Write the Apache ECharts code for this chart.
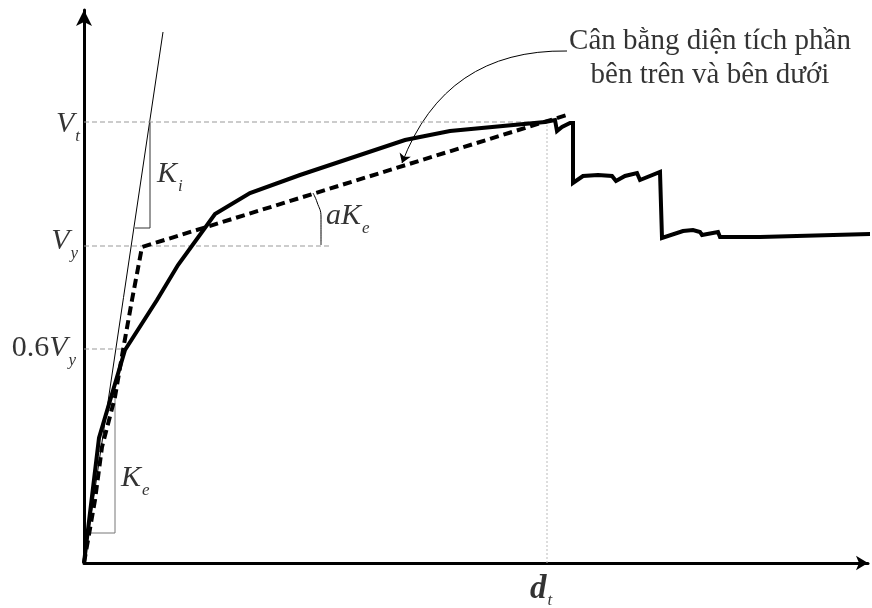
<!DOCTYPE html>
<html>
<head>
<meta charset="utf-8">
<script src="https://cdn.jsdelivr.net/npm/echarts@6/dist/echarts.min.js"></script>
<style>
html, body { margin: 0; padding: 0; background: #fff; }
#main { width: 872px; height: 608px; }
</style>
</head>
<body>
<div id="main"></div>
<script>
// đường cong đẩy dần (nét liền)
var capacityCurve = [[0,0],[15,125],[41,213],[73,263],[94,298],[131,349],[166,370],[216,388],[321,423],[366,432],
    [461,441],[471,443],[473,432],[478,436],[486,440],[489,440],[489,380],[499,387],[514,388],[528,387],[532,382],
    [541,387],[553,390],[556,383],[576,391],[578,325],[599,332],[609,333],[616,331],[618,328],[634,331],[636,326],
    [676,326],[788,329]];
// đường song tuyến (nét đứt)
var bilinear = [[0,0],[11,63],[18,116],[31,166],[39,213],[48,263],[58,316],[486,449]];
// độ cứng ban đầu Ki
var kiLine = [[0,0],[79,531]];
var kiTriangle = [[51,335],[66,335],[66,441]];
var keTriangle = [[6,30],[31,30],[31,166]];
var alphaArc = [[229,370],[233,361],[237,346],[237,318]];
// các mức lực
var levelNames = ['Vt', 'Vy', '0.6Vy'];
var levelY = [441, 317, 214];
var levelEndX = [464, 246, 41];
var dt = 463;
// chú thích
var noteText = 'Cân bằng diện tích phần\nbên trên và bên dưới';
var noteArrow = [[483,512],[318,400]];
var labels = [
    ['{v|V}{s|t}', -4, 437, 'right'],
    ['{v|V}{s|y}', -6, 320, 'right'],
    ['{n|0.6}{v|V}{s|y}', -8, 213, 'right'],
    ['{v|K}{s|i}', 73, 387, 'left'],
    ['{v|K}{s|e}', 37, 83, 'left'],
    ['{v|aK}{s|e}', 242, 345, 'left'],
    ['{d|d}{s|t}', 446, -27, 'left'],
    [noteText, 626, 505, 'center']
];

var serif = 'Liberation Serif';
var noBorder = {textBorderWidth: 0, textBorderColor: 'transparent', textShadowBlur: 0};
var rich = {
    v: Object.assign({fontFamily: serif, fontStyle: 'italic', fontSize: 30, color: '#000', verticalAlign: 'top'}, noBorder),
    n: Object.assign({fontFamily: serif, fontSize: 30, color: '#000', verticalAlign: 'top'}, noBorder),
    d: Object.assign({fontFamily: serif, fontStyle: 'italic', fontWeight: 'bold', fontSize: 33, color: '#000', verticalAlign: 'top'}, noBorder),
    s: Object.assign({fontFamily: serif, fontStyle: 'italic', fontSize: 17, color: '#000', verticalAlign: 'top', padding: [19, 0, 0, 1]}, noBorder)
};

var chart = echarts.init(document.getElementById('main'));

var series = [
    {type: 'line', data: capacityCurve, symbol: 'none', clip: false, z: 5,
        lineStyle: {color: '#000', width: 4, join: 'miter'}},
    {type: 'line', data: bilinear, symbol: 'none', clip: false, z: 4,
        lineStyle: {color: '#000', width: 4, type: [9, 5]}},
    {type: 'line', data: kiLine, symbol: 'none', clip: false,
        lineStyle: {color: '#000', width: 1}},
    {type: 'line', data: kiTriangle, symbol: 'none',
        lineStyle: {color: '#333', width: 1}},
    {type: 'line', data: keTriangle, symbol: 'none',
        lineStyle: {color: '#777', width: 1}},
    {type: 'line', data: alphaArc, symbol: 'none', smooth: true,
        lineStyle: {color: '#000', width: 1}},
    {type: 'line', data: [[dt, 0], [dt, levelY[0]]], symbol: 'none',
        lineStyle: {color: '#bbb', width: 1, type: [2, 2]}},
    {type: 'lines', coordinateSystem: 'cartesian2d', data: [{coords: noteArrow}],
        symbol: ['none', 'arrow'], symbolSize: 9,
        lineStyle: {color: '#000', width: 1, curveness: -0.35, opacity: 1}}
];
levelNames.forEach(function (name, i) {
    series.push({type: 'line', name: name, data: [[0, levelY[i]], [levelEndX[i], levelY[i]]], symbol: 'none',
        lineStyle: {color: '#999', width: 1, type: [5, 3]}});
});
series.push({
    type: 'scatter', symbolSize: 0, z: 10, clip: false, itemStyle: {color: '#000'},
    data: labels.map(function (l) {
        return {
            value: [l[1], l[2]], text: l[0],
            label: Object.assign({align: l[3], verticalAlign: 'middle', fontFamily: serif, fontSize: 29,
                color: '#000', lineHeight: 34}, noBorder)
        };
    }),
    label: Object.assign({
        show: true, position: 'inside', color: '#000',
        formatter: function (p) { return p.data.text; },
        rich: rich
    }, noBorder)
});

var option = {
    animation: false,
    backgroundColor: '#fff',
    grid: {left: 84, right: 4, top: 10, bottom: 45},
    xAxis: {
        type: 'value', min: 0, max: 784,
        axisLine: {show: true, symbol: ['none', 'arrow'], symbolSize: [11, 12], lineStyle: {color: '#000', width: 3}},
        axisTick: {show: false}, axisLabel: {show: false}, splitLine: {show: false}
    },
    yAxis: {
        type: 'value', min: 0, max: 553,
        axisLine: {show: true, symbol: ['none', 'arrow'], symbolSize: [12, 16], lineStyle: {color: '#000', width: 3}},
        axisTick: {show: false}, axisLabel: {show: false}, splitLine: {show: false}
    },
    series: series
};
chart.setOption(option);
</script>
</body>
</html>
